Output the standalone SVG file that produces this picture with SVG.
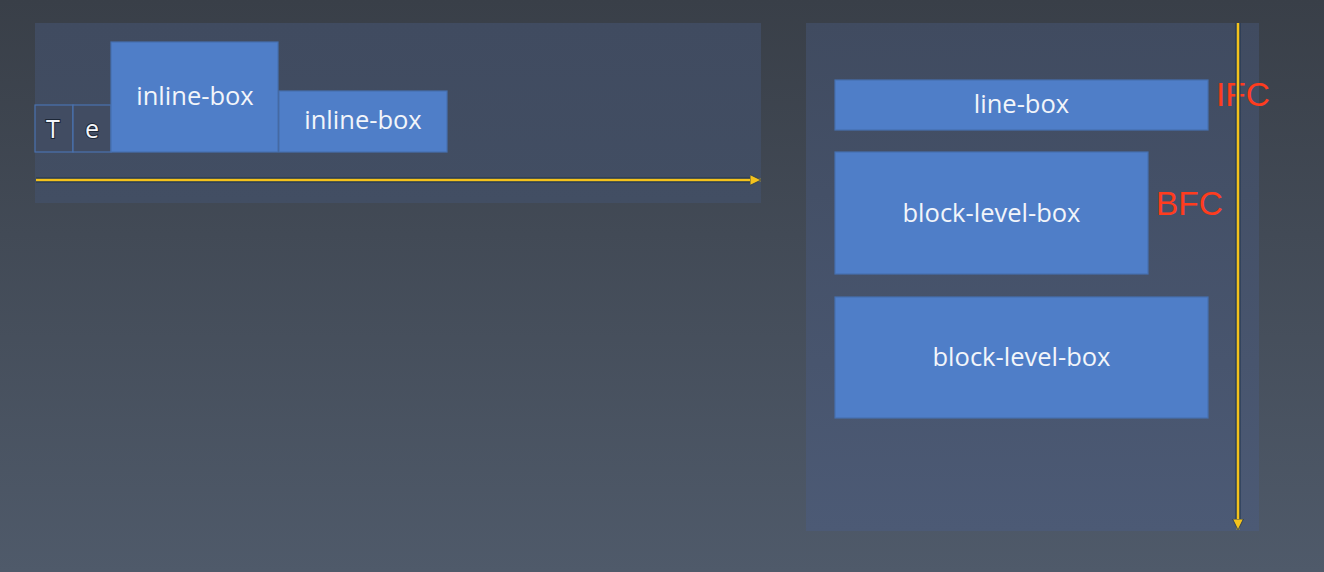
<svg xmlns="http://www.w3.org/2000/svg" width="1324" height="572" viewBox="0 0 1324 572">
<defs>
<linearGradient id="bg" x1="0" y1="0" x2="0" y2="1">
<stop offset="0" stop-color="#393f48"/>
<stop offset="1" stop-color="#4f5a6a"/>
</linearGradient>
<linearGradient id="panelL" x1="0" y1="0" x2="0" y2="1">
<stop offset="0" stop-color="#404b60"/>
<stop offset="1" stop-color="#424e63"/>
</linearGradient>
<linearGradient id="panelR" x1="0" y1="0" x2="0" y2="1">
<stop offset="0" stop-color="#404b60"/>
<stop offset="1" stop-color="#4c5a75"/>
</linearGradient>
<marker id="arrY" viewBox="0 0 12 12" refX="11.5" refY="6" markerWidth="12" markerHeight="12" markerUnits="userSpaceOnUse" orient="auto">
<path d="M0.5,0.6 L11.5,6 L0.5,11.4 Z" fill="#f4c21c" stroke="#1f3550" stroke-width="0.8"/>
</marker>
</defs>
<style>
.panel{stroke:none}
.box{fill:#4f7ec8;stroke:#4670b0;stroke-width:1.2}
.cell{fill:#414c62;stroke:#4a72b0;stroke-width:1.2}
.lbl{font-family:"Open Sans","Noto Sans",sans-serif;font-size:25.5px;fill:#f2f5fa;text-anchor:middle}
.ch{font-family:"Open Sans","Noto Sans",sans-serif;font-size:25px;fill:#f4f6fa;text-anchor:middle;stroke:#1c2636;stroke-width:2;paint-order:stroke}
.red{font-family:"Liberation Sans",Arial,sans-serif;font-size:33.5px;fill:#ff3c1e}
.under{stroke:#1f3550;stroke-width:5;fill:none}
.over{stroke:#f4c21c;stroke-width:2.6;fill:none}
</style>
<rect x="0" y="0" width="1324" height="572" fill="url(#bg)"/>
<g id="panel-inline">
<rect class="panel" x="35" y="23" width="726" height="180" fill="url(#panelL)"/>
</g>
<g id="panel-block">
<rect class="panel" x="806" y="23" width="453" height="508" fill="url(#panelR)"/>
</g>
<g id="char-T">
<rect class="cell" x="35" y="105" width="38" height="47"/>
<text class="ch" x="53" y="138">T</text>
</g>
<g id="char-e">
<rect class="cell" x="73" y="105" width="38" height="47"/>
<text class="ch" x="92" y="138">e</text>
</g>
<g id="inline-box-1">
<rect class="box" x="111" y="42" width="167" height="110"/>
<text class="lbl" x="195" y="105">inline-box</text>
</g>
<g id="inline-box-2">
<rect class="box" x="279" y="91" width="168" height="61"/>
<text class="lbl" x="363" y="129">inline-box</text>
</g>
<g id="line-box">
<rect class="box" x="835" y="80" width="373" height="50"/>
<text class="lbl" x="1021.5" y="113">line-box</text>
</g>
<g id="block-level-box-1">
<rect class="box" x="835" y="152" width="313" height="122"/>
<text class="lbl" x="991.5" y="222">block-level-box</text>
</g>
<g id="block-level-box-2">
<rect class="box" x="835" y="297" width="373" height="121"/>
<text class="lbl" x="1021.5" y="366">block-level-box</text>
</g>
<g id="label-IFC">
<text class="red" x="1216" y="106">IFC</text>
</g>
<g id="label-BFC">
<text class="red" x="1156" y="215">BFC</text>
</g>
<g id="connectors">
<line class="under" x1="36" y1="180" x2="750" y2="180"/>
<line class="over" x1="36" y1="180" x2="761" y2="180" marker-end="url(#arrY)"/>
<line class="under" x1="1238" y1="23" x2="1238" y2="519"/>
<line class="over" x1="1238" y1="23" x2="1238" y2="530" marker-end="url(#arrY)"/>
</g>
</svg>
